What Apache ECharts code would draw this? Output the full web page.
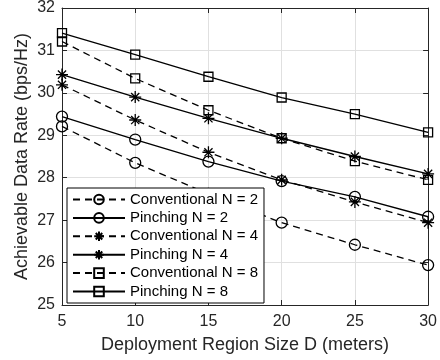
<!DOCTYPE html>
<html>
<head>
<meta charset="utf-8">
<script src="https://cdn.jsdelivr.net/npm/echarts@6/dist/echarts.min.js"></script>
<style>
  html, body { margin: 0; padding: 0; background: #fff; }
  #chart { width: 440px; height: 360px; }
</style>
</head>
<body>
<div id="chart"></div>
<script>
// deployment region size D (meters)
const regionSizes = [5, 10, 15, 20, 25, 30];

// achievable data rate (bps/Hz)
const conventionalN2 = [29.21, 28.35, 27.62, 26.94, 26.42, 25.94];
const pinchingN2 = [29.44, 28.90, 28.38, 27.92, 27.55, 27.08];
const conventionalN4 = [30.19, 29.36, 28.60, 27.95, 27.43, 26.94];
const pinchingN4 = [30.43, 29.90, 29.40, 28.93, 28.50, 28.09];
const conventionalN8 = [31.21, 30.34, 29.59, 28.93, 28.39, 27.95];
const pinchingN8 = [31.41, 30.90, 30.38, 29.89, 29.50, 29.07];

const font = '"Liberation Sans", Arial, Helvetica, sans-serif';
const ink = '#262626';

// matlab style asterisk: plus + cross
const asterisk = 'path://M5,0 L5,10 M0,5 L10,5 M1.6,1.6 L8.4,8.4 M1.6,8.4 L8.4,1.6';

const makeSeries = (name, values, symbol, size, dashed) => ({
  name,
  type: 'line',
  data: regionSizes.map((x, i) => [x, values[i]]),
  symbol,
  symbolSize: size,
  showAllSymbol: true,
  lineStyle: {
    color: '#000',
    width: 1.3,
    type: dashed ? [7, 5] : 'solid',
  },
  itemStyle: {
    color: 'transparent',
    borderColor: '#000',
    borderWidth: 1.3,
  },
  emphasis: { disabled: true },
});

const chart = echarts.init(document.getElementById('chart'), null, { renderer: 'canvas' });

const option = {
  animation: false,
  backgroundColor: '#fff',
  textStyle: { fontFamily: font },
  grid: { left: 62, right: 8, top: 7, bottom: 55, containLabel: false },
  legend: {
    orient: 'vertical',
    left: 67,
    top: 188,
    padding: [4, 6, 4, 5],
    itemGap: 3.4,
    itemWidth: 52,
    itemHeight: 12,
    backgroundColor: '#fff',
    borderColor: '#000',
    borderWidth: 1,
    borderRadius: 0,
    textStyle: { fontFamily: font, fontSize: 15, color: '#000', lineHeight: 15 },
    data: ['Conventional N = 2', 'Pinching N = 2', 'Conventional N = 4',
      'Pinching N = 4', 'Conventional N = 8', 'Pinching N = 8'],
  },
  xAxis: [
    {
      type: 'value',
      min: 5,
      max: 30,
      interval: 5,
      name: 'Deployment Region Size D (meters)',
      nameLocation: 'middle',
      nameGap: 31,
      nameTextStyle: { fontFamily: font, fontSize: 18, color: ink },
      axisLine: { show: true, onZero: false, lineStyle: { color: ink, width: 1 } },
      axisTick: { show: true, inside: true, length: 5, lineStyle: { color: ink } },
      axisLabel: { fontFamily: font, fontSize: 16, color: ink, margin: 9 },
      splitLine: { show: true, lineStyle: { color: '#e0e0e0', width: 1 } },
    },
    {
      type: 'value',
      position: 'top',
      min: 5,
      max: 30,
      interval: 5,
      axisLine: { show: true, onZero: false, lineStyle: { color: ink, width: 1 } },
      axisTick: { show: true, inside: true, length: 5, lineStyle: { color: ink } },
      axisLabel: { show: false },
      splitLine: { show: false },
    },
  ],
  yAxis: [
    {
      type: 'value',
      min: 25,
      max: 32,
      interval: 1,
      name: 'Achievable Data Rate (bps/Hz)',
      nameLocation: 'middle',
      nameGap: 31,
      nameMoveOverlap: false,
      nameTextStyle: { fontFamily: font, fontSize: 18, color: ink },
      axisLine: { show: true, onZero: false, lineStyle: { color: ink, width: 1 } },
      axisTick: { show: true, inside: true, length: 5, lineStyle: { color: ink } },
      axisLabel: { fontFamily: font, fontSize: 16, color: ink, margin: 7 },
      splitLine: { show: true, lineStyle: { color: '#e0e0e0', width: 1 } },
    },
    {
      type: 'value',
      position: 'right',
      min: 25,
      max: 32,
      interval: 1,
      axisLine: { show: true, onZero: false, lineStyle: { color: ink, width: 1 } },
      axisTick: { show: true, inside: true, length: 5, lineStyle: { color: ink } },
      axisLabel: { show: false },
      splitLine: { show: false },
    },
  ],
  series: [
    makeSeries('Conventional N = 2', conventionalN2, 'circle', 11, true),
    makeSeries('Pinching N = 2', pinchingN2, 'circle', 11, false),
    makeSeries('Conventional N = 4', conventionalN4, asterisk, 12, true),
    makeSeries('Pinching N = 4', pinchingN4, asterisk, 12, false),
    makeSeries('Conventional N = 8', conventionalN8, 'rect', 9, true),
    makeSeries('Pinching N = 8', pinchingN8, 'rect', 9, false),
  ],
};

chart.setOption(option);
</script>
</body>
</html>
